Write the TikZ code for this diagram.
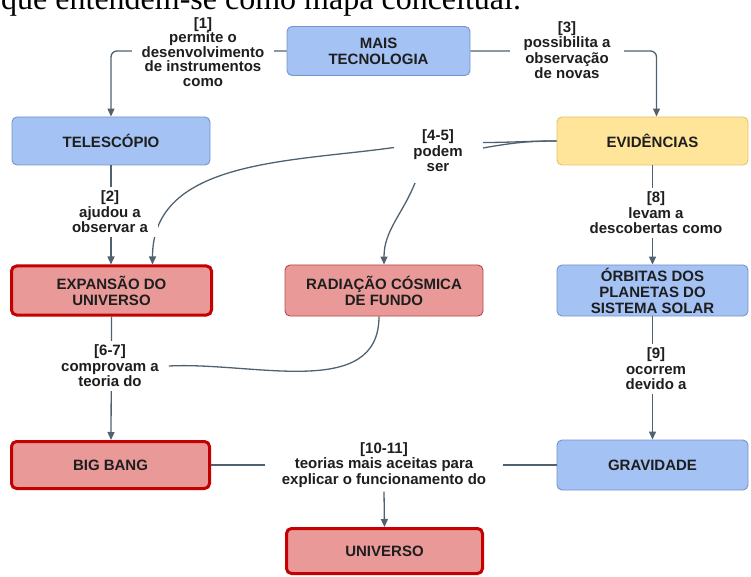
\documentclass[tikz,border=0pt]{standalone}
\usepackage{fontspec}
\setmainfont{Liberation Sans}
\newfontfamily\pageserif{Liberation Serif}
\usepackage{tikz}
\usetikzlibrary{arrows.meta}

\definecolor{fillblue}{HTML}{A4C2F4}
\definecolor{drawblue}{HTML}{7394CC}
\definecolor{fillyellow}{HTML}{FFE599}
\definecolor{drawyellow}{HTML}{E3C466}
\definecolor{fillred}{HTML}{EA9999}
\definecolor{drawred}{HTML}{C40000}
\definecolor{drawpink}{HTML}{B5484A}
\definecolor{linkgray}{HTML}{50626F}
\definecolor{inkgray}{HTML}{1E1E1E}

\tikzset{
  box/.style={draw, rounded corners=5pt, align=center, inner ysep=1pt,
    line width=0.9pt, text=inkgray, font=\bfseries\fontsize{15}{16}\selectfont},
  bluebox/.style={box, fill=fillblue, draw=drawblue},
  yellowbox/.style={box, fill=fillyellow, draw=drawyellow},
  redbox/.style={box, fill=fillred, draw=drawred, line width=3pt},
  pinkbox/.style={box, fill=fillred, draw=drawpink},
  lbl/.style={fill=white, align=center, inner xsep=10pt, inner ysep=4pt,
    text=inkgray, font=\bfseries\fontsize{15}{15.5}\selectfont},
  link/.style={draw=linkgray, line width=1.3pt},
  arr/.style={link, -{Triangle[length=8pt,width=7pt]}},
}

\begin{document}
\begin{tikzpicture}[x=1pt,y=1pt]
\useasboundingbox (0,0) rectangle (751,576);
\clip (0,0) rectangle (751,576);

% cut-off line of the page above
\node[anchor=base west, inner sep=0pt, font=\pageserif\fontsize{32}{36}\selectfont] (pagetext) at (1,566) {que entendem-se como mapa conceitual.};

% boxes
\node[bluebox, minimum width=183pt, minimum height=49pt] (mais) at (378.5,525) {MAIS\\TECNOLOGIA};
\node[bluebox, minimum width=198pt, minimum height=48pt] (tele) at (111,435) {TELESCÓPIO};
\node[yellowbox, minimum width=191pt, minimum height=48pt] (evid) at (652.5,435) {EVIDÊNCIAS};
\node[redbox, minimum width=200pt, minimum height=49pt] (expa) at (111.5,285.5) {EXPANSÃO DO\\UNIVERSO};
\node[pinkbox, minimum width=198pt, minimum height=51pt] (radi) at (384,285.5) {RADIAÇÃO CÓSMICA\\DE FUNDO};
\node[bluebox, minimum width=191pt, minimum height=51pt] (orb) at (652.5,285.5) {ÓRBITAS DOS\\PLANETAS DO\\SISTEMA SOLAR};
\node[redbox, minimum width=198pt, minimum height=47pt] (big) at (110.5,111) {BIG BANG};
\node[bluebox, minimum width=191pt, minimum height=50pt] (grav) at (652.5,111) {GRAVIDADE};
\node[redbox, minimum width=196pt, minimum height=45pt] (univ) at (384.5,25) {UNIVERSO};

% connectors
\draw[arr, rounded corners=6pt] (mais.west) -| (tele.north);
\draw[arr, rounded corners=6pt] (mais.east) -| ([xshift=4pt]evid.north);
\draw[arr] (tele.south) -- ([xshift=-0.5pt]expa.north);
\draw[arr] (evid.south) -- (orb.north);
\draw[arr] (expa.south) -- ([xshift=0.5pt]big.north);
\draw[arr] (orb.south) -- (grav.north);
\draw[link] (big.east) -- (grav.west);

% the two branches of [4-5]
\coordinate (in45a) at (483,433.5);
\coordinate (in45b) at (483,428);
\coordinate (out45a) at (394,428.5);
\coordinate (out45b) at (415,393);
\draw[link] (evid.west) to[out=180,in=0] (in45a);
\draw[link] (evid.west) to[out=180,in=10] (in45b);
\draw[arr] (out45a) to[out=188,in=90] ([xshift=41pt]expa.north);
\draw[arr] (out45b) to[out=-112,in=90] (radi.north);

% labels
\node[lbl, font=\bfseries\fontsize{15}{14.5}\selectfont] (l1) at (203,524) {[1]\\permite o\\desenvolvimento\\de instrumentos\\como};
\node[lbl, inner xsep=14pt] (l3) at (567,526) {[3]\\possibilita a\\observação\\de novas};
\node[lbl] (l2) at (110,364) {[2]\\ajudou a\\observar a};
\node[lbl, fill=none] (l45) at (438,425) {[4-5]\\podem\\ser};
\node[lbl] (l67) at (110,210) {[6-7]\\comprovam a\\teoria do};
\node[lbl] (l8) at (656,363) {[8]\\levam a\\descobertas como};
\node[lbl] (l9) at (656,207) {[9]\\ocorrem\\devido a};
\node[lbl, inner xsep=17pt] (l1011) at (384,111) {[10-11]\\teorias mais aceitas para\\explicar o funcionamento do};

\draw[link] ([xshift=-5pt]radi.south) to[out=-90,in=3] (l67.east);
\draw[arr] (l1011.south) -- (univ.north);
\end{tikzpicture}
\end{document}
